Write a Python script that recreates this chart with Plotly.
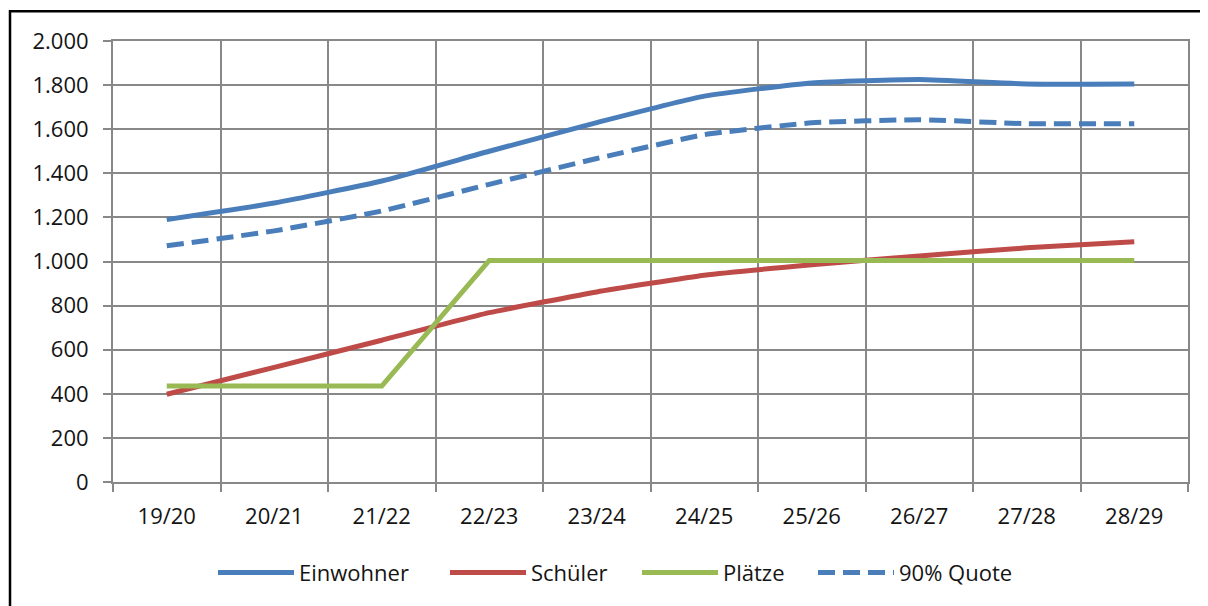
import plotly.graph_objects as go

categories = ["19/20", "20/21", "21/22", "22/23", "23/24", "24/25", "25/26", "26/27", "27/28", "28/29"]
einwohner = [1190, 1265, 1365, 1500, 1630, 1750, 1810, 1825, 1805, 1805]
schueler = [398, 520, 643, 768, 862, 938, 985, 1025, 1062, 1090]
plaetze = [435, 435, 435, 1005, 1005, 1005, 1005, 1005, 1005, 1005]
quote90 = [1071, 1139, 1229, 1350, 1467, 1575, 1629, 1643, 1625, 1625]
y_ticks = [0, 200, 400, 600, 800, 1000, 1200, 1400, 1600, 1800, 2000]

BLUE = "#4A7EBB"
RED = "#BE4B48"
GREEN = "#98B954"
GRID = "#888888"
FONT = "Open Sans"
TXT = "#141414"
FS = 22
LW = 5

# page body has an 8px margin; layout coordinates below are given in screen px
OFF = 8
W, H = 1208 - OFF, 606 - OFF
PL, PR, PT, PB = 113, 1188, 41, 484  # plot area in screen px
L, R, T, B = PL - OFF, W - (PR - OFF), PT - OFF, H - (PB - OFF)
pw, ph = PR - PL, PB - PT

def px_x(px):
    return (px - PL) / pw

def px_y(py):
    return (PB - py) / ph

fig = go.Figure()
fig.add_trace(go.Scatter(x=categories, y=einwohner, name="Einwohner", mode="lines", legend="legend",
                         line=dict(color=BLUE, width=LW, shape="spline", smoothing=0.45)))
fig.add_trace(go.Scatter(x=categories, y=schueler, name="Schüler", mode="lines", legend="legend2",
                         line=dict(color=RED, width=LW, shape="spline", smoothing=0.35)))
fig.add_trace(go.Scatter(x=categories, y=plaetze, name="Plätze", mode="lines", legend="legend3",
                         line=dict(color=GREEN, width=LW)))
fig.add_trace(go.Scatter(x=categories, y=quote90, name="90% Quote", mode="lines", legend="legend4",
                         line=dict(color=BLUE, width=LW, dash="17px,8px", shape="spline", smoothing=0.45)))

def leg(start_px):
    return dict(orientation="h", x=px_x(start_px - 5), xanchor="left", y=px_y(575), yanchor="middle",
                font=dict(family=FONT, size=FS, color=TXT), itemwidth=76,
                bgcolor="rgba(0,0,0,0)", borderwidth=0)

fig.update_layout(
    width=W, height=H,
    margin=dict(l=L, r=R, t=T, b=B),
    paper_bgcolor="white", plot_bgcolor="white",
    separators=",.",
    font=dict(family=FONT, size=FS, color=TXT),
    showlegend=True,
    legend=leg(218), legend2=leg(450), legend3=leg(642), legend4=leg(818),
    xaxis=dict(type="category", range=[-0.5, 9.5], tickson="boundaries",
               showgrid=True, gridcolor=GRID, gridwidth=2,
               showline=True, linecolor=GRID, linewidth=2, mirror=True,
               ticks="outside", ticklen=8, tickwidth=2, tickcolor=GRID,
               ticklabelstandoff=14, fixedrange=True),
    yaxis=dict(range=[0, 2000], tickvals=y_ticks, tickformat=",d",
               showgrid=True, gridcolor=GRID, gridwidth=2,
               showline=True, linecolor=GRID, linewidth=2, mirror=True,
               zeroline=False,
               ticks="outside", ticklen=8, tickwidth=2, tickcolor=GRID,
               ticklabelstandoff=10, fixedrange=True),
    shapes=[dict(type="rect", xref="paper", yref="paper",
                 x0=px_x(10), x1=px_x(1260), y0=px_y(660), y1=px_y(11),
                 line=dict(color="black", width=2.5), fillcolor="rgba(0,0,0,0)", layer="above")],
)

fig.write_html("out.html")
